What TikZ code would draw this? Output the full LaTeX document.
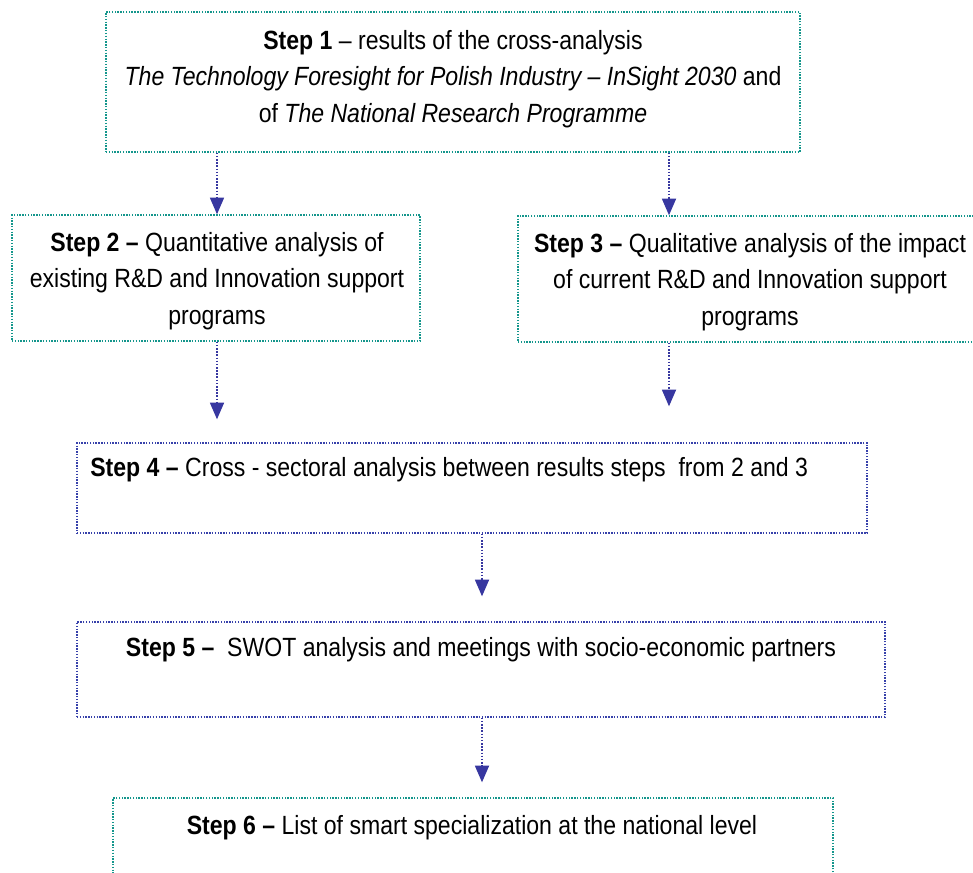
\documentclass[tikz,border=0pt]{standalone}
\usepackage{fontspec}
\setmainfont{Liberation Sans}[FakeStretch=0.875]
\usetikzlibrary{positioning, calc, arrows.meta, fit}

\definecolor{stepteal}{RGB}{20,150,140}
\definecolor{stepblue}{RGB}{55,65,170}
\definecolor{flowblue}{RGB}{55,55,160}

\tikzset{
    tealbox/.style={draw=stepteal, line width=0.8pt, dash pattern=on 0.8pt off 0.8pt, inner sep=0pt},
    bluebox/.style={draw=stepblue, line width=0.8pt, dash pattern=on 0.8pt off 0.8pt, inner sep=0pt},
    steptext/.style={align=center, inner sep=0pt, font=\fontsize{15}{20.8}\selectfont},
    flow/.style={-{Triangle[width=8pt,length=9.5pt]}, draw=flowblue, line width=0.9pt, dash pattern=on 0.9pt off 0.9pt},
}

\begin{document}
\begin{tikzpicture}[x=0.02cm, y=-0.02cm]

    \useasboundingbox (0,0) rectangle (973,872);
    \clip (0,0) rectangle (973,872);

    % ================= Boxes =================
    \node[tealbox, fit={(106,12) (800,152)}] (s1) {};
    \node[tealbox, fit={(12,215) (420,341)}] (s2) {};
    \node[tealbox, fit={(518,216) (985,342)}] (s3) {};
    \node[bluebox, fit={(77,443) (867,533)}] (s4) {};
    \node[bluebox, fit={(77,622) (885,717)}] (s5) {};
    \node[tealbox, fit={(113,798) (833,900)}] (s6) {};

    % ================= Texts =================
    \node[steptext] (t1) at (453,79) {\textbf{Step 1} -- results of the cross-analysis\\
        \textit{The Technology Foresight for Polish Industry -- InSight 2030} and\\
        of \textit{The National Research Programme}};
    \node[steptext] (t2) at (217,281) {\textbf{Step 2 --} Quantitative analysis of\\
        existing R\&D and Innovation support\\ programs};
    \node[steptext] (t3) at (750,282) {\textbf{Step 3 --} Qualitative analysis of the impact\\
        of current R\&D and Innovation support\\ programs};
    \node[steptext, anchor=west] (t4) at (90,470) {\textbf{Step 4 --} Cross - sectoral analysis between results steps\ \ from 2 and 3};
    \node[steptext] (t5) at (481,650) {\textbf{Step 5 --}\ \ SWOT analysis and meetings with socio-economic partners};
    \node[steptext] (t6) at (472,828) {\textbf{Step 6 --} List of smart specialization at the national level};

    % ================= Arrows =================
    \coordinate (colL) at (217,0);
    \coordinate (colR) at (669,0);
    \coordinate (colM) at (482,0);

    \draw[flow] (s1.south -| colL) -- (s2.north -| colL);
    \draw[flow] (s1.south -| colR) -- (s3.north -| colR);
    \draw[flow, shorten >=0.46cm] (s2.south -| colL) -- (s4.north -| colL);
    \draw[flow, shorten >=0.72cm] (s3.south -| colR) -- (s4.north -| colR);
    \draw[flow, shorten >=0.5cm] (s4.south -| colM) -- (s5.north -| colM);
    \draw[flow, shorten >=0.3cm] (s5.south -| colM) -- (s6.north -| colM);

\end{tikzpicture}
\end{document}
